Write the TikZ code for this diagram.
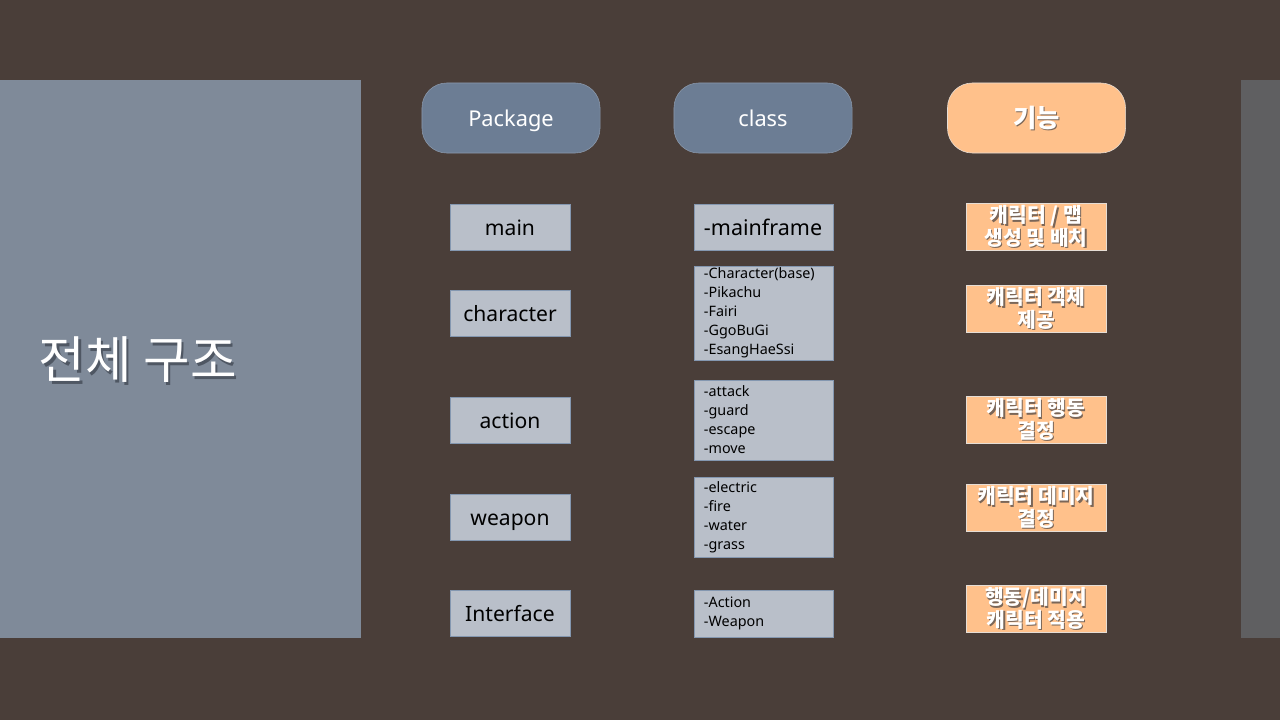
\documentclass[tikz,border=0pt]{standalone}
\usepackage{fontspec}
\setmainfont{Noto Sans}
\newfontfamily\krfont{Noto Sans CJK KR}
\usepackage{xcolor}
\definecolor{slidebg}{HTML}{4A3E39}
\definecolor{panelgray}{HTML}{7F8A99}
\definecolor{stripgray}{HTML}{5F5F61}
\definecolor{headblue}{HTML}{6C7D94}
\definecolor{headline}{HTML}{8A98AB}
\definecolor{boxfill}{HTML}{B9BFC9}
\definecolor{boxline}{HTML}{8497B0}
\definecolor{peach}{HTML}{FFC18B}
\definecolor{peachline}{HTML}{E6DDD5}
\definecolor{txtshadow}{HTML}{7A6658}
\definecolor{titleshadow}{HTML}{4F5763}
% white text with a small drop shadow
\newcommand{\shtext}[1]{\leavevmode\rlap{\raisebox{-0.9pt}[0pt][0pt]{\hspace{0.9pt}\textcolor{txtshadow}{#1}}}#1}
\newcommand{\bigshtext}[1]{\leavevmode\rlap{\raisebox{-1.5pt}[0pt][0pt]{\hspace{1.5pt}\textcolor{titleshadow}{#1}}}#1}

\begin{document}
\begin{tikzpicture}[
			x = 0.025cm, y = -0.025cm, % one unit = one pixel
			head/.style = {rounded corners=0.62cm, fill=headblue, draw=headline,
				minimum width=4.45cm, minimum height=1.75cm, text=white,
				text height=13pt, text depth=1.4pt,
				font=\fontsize{15.5}{18}\selectfont},
			pkg/.style = {draw=boxline, fill=boxfill, minimum width=3cm,
				minimum height=1.15cm, text height=13pt, text depth=0.6pt,
				font=\fontsize{15}{17}\selectfont},
			cls/.style = {draw=boxline, fill=boxfill, text width=2.975cm,
				inner xsep=0.25cm, inner ysep=1pt, align=left,
				font=\fontsize{10.2}{13.5}\selectfont},
			func/.style = {draw=peachline, fill=peach, minimum width=3.5cm,
				minimum height=1.17cm, inner sep=1pt, align=center, text=white,
				font=\krfont\bfseries\fontsize{14.5}{16}\selectfont},
		]
		% background and side panels
		\fill[slidebg] (0,0) rectangle (1280,720);
		\fill[panelgray] (0,80) rectangle (361,638);
		\fill[stripgray] (1241,80) rectangle (1280,638);
		\node[anchor=west, text=white, font=\krfont\fontsize{36}{40}\selectfont] (title) at (34,360){\bigshtext{전체 구조}};

		% column heads
		\node[head] (hpkg) at (511,118){Package};
		\node[head] (hcls) at (763,118){class};
		\node[head, fill=peach, draw=peachline, text height=16pt, text depth=2.4pt,
			font=\krfont\bfseries\fontsize{18}{20}\selectfont] (hfunc) at (1036.5,118){\shtext{기능}};

		% packages
		\node[pkg] (pmain) at (510,227){main};
		\node[pkg] (pchar) at (510,313){character};
		\node[pkg] (pact) at (510,420){action};
		\node[pkg] (pweap) at (510,517){weapon};
		\node[pkg] (pif) at (510,613){Interface};

		% classes
		\node[cls, minimum height=1.15cm, font=\fontsize{15.3}{17}\selectfont] (cmain) at (763.5,227){-mainframe};
		\node[cls, minimum height=2.35cm] (cchar) at (763.5,313){-Character(base)\\-Pikachu\\-Fairi\\-GgoBuGi\\-EsangHaeSsi};
		\node[cls, minimum height=2cm] (cact) at (763.5,420){-attack\\-guard\\-escape\\-move};
		\node[cls, minimum height=2cm] (cweap) at (763.5,517){-electric\\-fire\\-water\\-grass};
		\node[cls, minimum height=1.17cm] (cif) at (763.5,613.5){-Action\\-Weapon};

		% functions
		\node[func] (fmain) at (1036,226.5){\shtext{캐릭터 / 맵}\\\shtext{생성 및 배치}};
		\node[func] (fchar) at (1036,308.5){\shtext{캐릭터 객체}\\\shtext{제공}};
		\node[func] (fact) at (1036,419.5){\shtext{캐릭터 행동}\\\shtext{결정}};
		\node[func] (fweap) at (1036,507.5){\shtext{캐릭터 데미지}\\\shtext{결정}};
		\node[func] (fif) at (1036,608.5){\shtext{행동/데미지}\\\shtext{캐릭터 적용}};
\end{tikzpicture}
\end{document}
